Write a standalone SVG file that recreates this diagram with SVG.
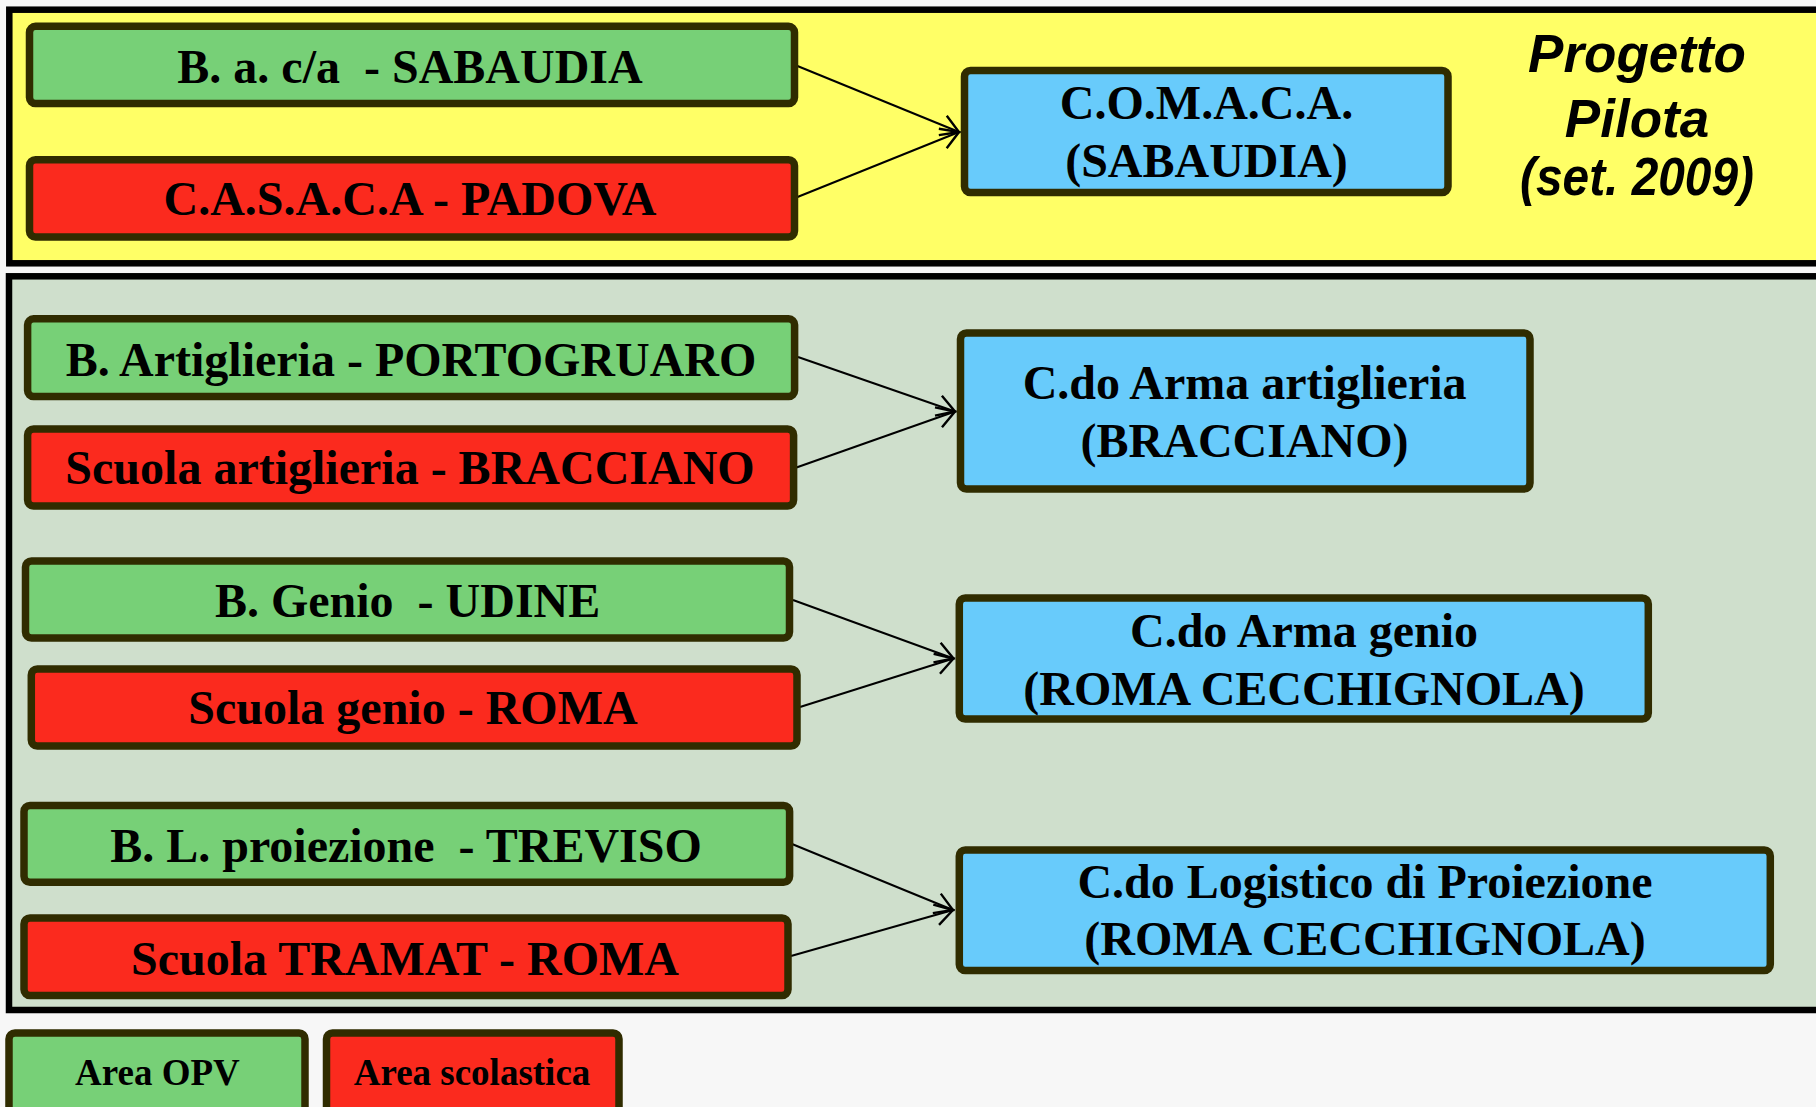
<svg xmlns="http://www.w3.org/2000/svg" width="1816" height="1107" viewBox="0 0 1816 1107">
<style>
.panel{stroke:#000;stroke-width:6.5}
.box{stroke:#302c00;stroke-width:7.5}
.g{fill:#77d077}
.r{fill:#fb2a1e}
.b{fill:#68cbfb}
.t{font-family:"Liberation Serif","Times New Roman",serif;font-weight:bold;font-size:48px;fill:#000;text-anchor:middle;white-space:pre}
.tl{font-size:37px}
.p{font-family:"Liberation Sans",Arial,sans-serif;font-weight:bold;font-style:italic;font-size:53px;fill:#000;text-anchor:middle}
.c{stroke:#000;stroke-width:2;fill:none}
</style>
<defs>
<marker id="ah" markerUnits="userSpaceOnUse" markerWidth="30" markerHeight="30" viewBox="-25 -15 30 30" refX="0" refY="0" orient="auto">
<path d="M-17.5,-10.5 L0,0 L-17.5,10.5" fill="none" stroke="#000" stroke-width="2.4"/>
</marker>
</defs>
<rect width="1816" height="1107" fill="#f7f7f7"/>
<g id="panel-pilota">
<rect class="panel" x="9.3" y="9.7" width="1830" height="253.6" fill="#ffff66"/>
<text class="p" x="1637" y="72">Progetto</text>
<text class="p" x="1637" y="137">Pilota</text>
<text class="p" x="1637" y="195" textLength="234" lengthAdjust="spacingAndGlyphs">(set. 2009)</text>
</g>
<g id="panel-main">
<rect class="panel" x="9" y="276.3" width="1830" height="733.7" fill="#cfdfcc"/>
</g>
<g id="connectors">
<line class="c" x1="795" y1="65" x2="959" y2="132" marker-end="url(#ah)"/>
<line class="c" x1="795" y1="198" x2="959" y2="132" marker-end="url(#ah)"/>
<line class="c" x1="798" y1="357" x2="955" y2="411.5" marker-end="url(#ah)"/>
<line class="c" x1="795" y1="468" x2="955" y2="411.5" marker-end="url(#ah)"/>
<line class="c" x1="793" y1="600" x2="953.5" y2="658.5" marker-end="url(#ah)"/>
<line class="c" x1="800" y1="707" x2="953.5" y2="658.5" marker-end="url(#ah)"/>
<line class="c" x1="792" y1="844" x2="953" y2="910" marker-end="url(#ah)"/>
<line class="c" x1="791" y1="956" x2="953" y2="910" marker-end="url(#ah)"/>
</g>
<g id="n-sabaudia">
<rect class="box g" x="29.5" y="26.3" width="765" height="77.3" rx="6"/>
<text class="t" x="410" y="82.7" xml:space="preserve">B. a. c/a  - SABAUDIA</text>
</g>
<g id="n-casaca">
<rect class="box r" x="29.5" y="159.7" width="765" height="77.3" rx="6"/>
<text class="t" x="410" y="215">C.A.S.A.C.A - PADOVA</text>
</g>
<g id="n-comaca">
<rect class="box b" x="964.5" y="70.5" width="483.5" height="122" rx="6"/>
<text class="t" x="1206.5" y="119.3">C.O.M.A.C.A.</text>
<text class="t" x="1206.5" y="176.7">(SABAUDIA)</text>
</g>
<g id="n-portogruaro">
<rect class="box g" x="27.6" y="318.8" width="767" height="77.7" rx="6"/>
<text class="t" x="411" y="376">B. Artiglieria - PORTOGRUARO</text>
</g>
<g id="n-scuola-art">
<rect class="box r" x="27.6" y="429" width="766" height="77" rx="6"/>
<text class="t" x="410" y="484">Scuola artiglieria - BRACCIANO</text>
</g>
<g id="n-cdo-art">
<rect class="box b" x="960.5" y="333" width="569.5" height="156" rx="6"/>
<text class="t" x="1244.6" y="399.3">C.do Arma artiglieria</text>
<text class="t" x="1244.6" y="457">(BRACCIANO)</text>
</g>
<g id="n-udine">
<rect class="box g" x="25.5" y="561" width="764" height="77" rx="6"/>
<text class="t" x="407.6" y="616.7" xml:space="preserve">B. Genio  - UDINE</text>
</g>
<g id="n-scuola-genio">
<rect class="box r" x="31.3" y="669" width="765.7" height="77" rx="6"/>
<text class="t" x="413" y="724.3">Scuola genio - ROMA</text>
</g>
<g id="n-cdo-genio">
<rect class="box b" x="959.3" y="598" width="689" height="121" rx="6"/>
<text class="t" x="1304" y="646.7">C.do Arma genio</text>
<text class="t" x="1304" y="705">(ROMA CECCHIGNOLA)</text>
</g>
<g id="n-treviso">
<rect class="box g" x="24" y="805.5" width="765.6" height="76.8" rx="6"/>
<text class="t" x="406" y="861.7" xml:space="preserve">B. L. proiezione  - TREVISO</text>
</g>
<g id="n-tramat">
<rect class="box r" x="24" y="918" width="764" height="77.5" rx="6"/>
<text class="t" x="405" y="975">Scuola TRAMAT - ROMA</text>
</g>
<g id="n-cdo-log">
<rect class="box b" x="959.3" y="850" width="811" height="120.5" rx="6"/>
<text class="t" x="1365" y="898.3">C.do Logistico di Proiezione</text>
<text class="t" x="1365" y="955">(ROMA CECCHIGNOLA)</text>
</g>
<g id="legend-opv">
<rect class="box g" x="9" y="1033" width="296" height="100" rx="6"/>
<text class="t tl" x="157.4" y="1085">Area OPV</text>
</g>
<g id="legend-scuola">
<rect class="box r" x="326.5" y="1033" width="292.5" height="100" rx="6"/>
<text class="t tl" x="472" y="1085">Area scolastica</text>
</g>
</svg>
